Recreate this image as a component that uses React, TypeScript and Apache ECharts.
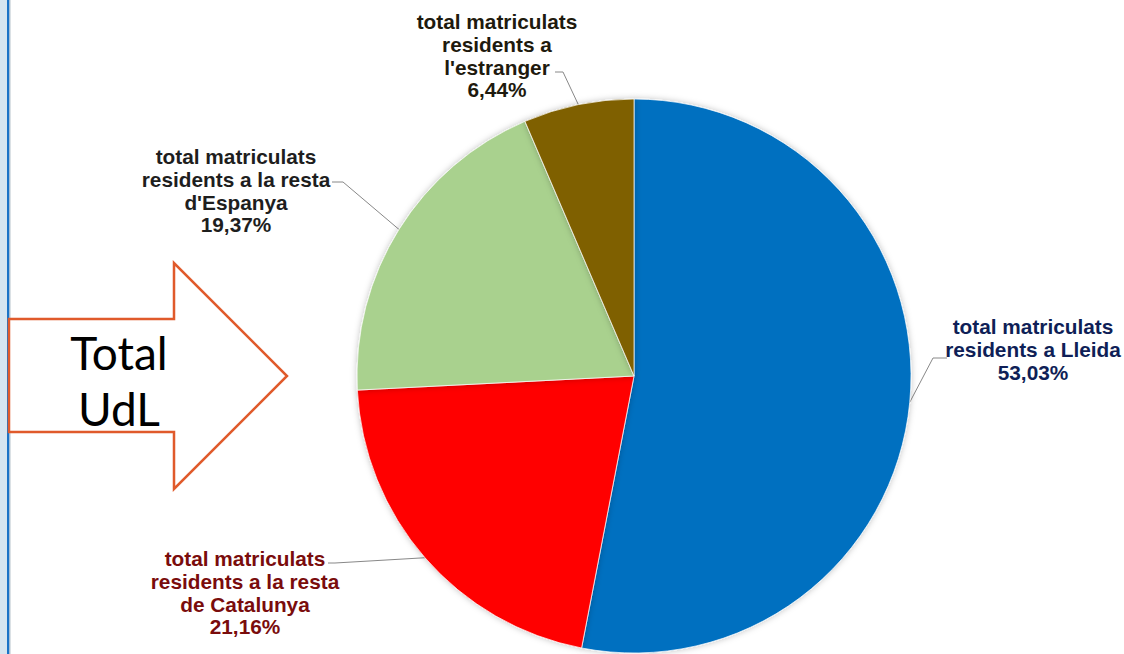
import React, { useEffect, useRef } from "react";
import * as echarts from "echarts";

const categories = [
  "total matriculats\nresidents a Lleida",
  "total matriculats\nresidents a la resta\nde Catalunya",
  "total matriculats\nresidents a la resta\nd'Espanya",
  "total matriculats\nresidents a\nl'estranger",
];
const shares = [53.03, 21.16, 19.37, 6.44];
const sliceColors = ["#0070C0", "#FF0000", "#A9D18E", "#7F6000"];
const labelColors = ["#0F1F57", "#7A0C0C", "#1E1E1E", "#1E1A0E"];
const arrowText = "Total\nUdL";

// label block placement: [centerX, topY, bendX, bendY, endX, endY]
const labelPlacement = [
  [1033, 315, 933, 358, 947, 358],
  [245, 547, 335, 563, 328, 563],
  [236, 145, 343, 182, 332, 182],
  [497, 10, 563, 72, 555, 72],
];

const fmt = (v: number) => v.toFixed(2).replace(".", ",") + "%";

export default function App() {
  const ref = useRef<HTMLDivElement>(null);
  useEffect(() => {
    if (!ref.current) return;
    const chart = echarts.init(ref.current, undefined, { renderer: "svg" });
    chart.setOption({
      animation: false,
      backgroundColor: "#ffffff",
      graphic: [
        { type: "rect", shape: { x: 0, y: 0, width: 7, height: 654 }, style: { fill: "#D5E5F0" } },
        { type: "rect", shape: { x: 7, y: 0, width: 2.5, height: 654 }, style: { fill: "#1A73C6" } },
        { type: "rect", shape: { x: 9.5, y: 0, width: 1, height: 654 }, style: { fill: "#B8C4CC" } },
        {
          type: "polygon",
          shape: {
            points: [
              [9, 319],
              [174, 319],
              [174, 263],
              [287, 376],
              [174, 489],
              [174, 432],
              [9, 432],
            ],
          },
          style: { fill: "#ffffff", stroke: "#E05A2B", lineWidth: 2.5 },
        },
        {
          type: "text",
          x: 119,
          y: 380,
          style: {
            text: arrowText,
            fill: "#000000",
            font: "46px Lato, 'Open Sans', sans-serif",
            lineHeight: 56,
            align: "center",
            verticalAlign: "middle",
          },
        },
      ],
      series: [
        {
          type: "pie",
          center: [634, 376],
          radius: 277,
          startAngle: 90,
          clockwise: true,
          avoidLabelOverlap: false,
          itemStyle: {
            borderColor: "rgba(255,255,255,0.7)",
            borderWidth: 1,
            shadowBlur: 6,
            shadowColor: "rgba(0,0,0,0.25)",
          },
          label: {
            show: true,
            position: "outer",
            fontFamily: "'Liberation Sans', Arial, sans-serif",
            fontWeight: "bold",
            fontSize: 20.8,
            lineHeight: 22.8,
            align: "center",
            formatter: (p: any) => p.name + "\n" + fmt(p.value),
          },
          labelLine: { show: true, lineStyle: { color: "#888888", width: 1 } },
          labelLayout: (params: any) => {
            const pl = labelPlacement[params.dataIndex];
            const start = params.labelLinePoints ? params.labelLinePoints[0] : [pl[2], pl[3]];
            return {
              x: pl[0],
              y: pl[1],
              align: "center",
              verticalAlign: "top",
              labelLinePoints: [start, [pl[2], pl[3]], [pl[4], pl[5]]],
            };
          },
          data: categories.map((name, i) => ({
            name,
            value: shares[i],
            itemStyle: { color: sliceColors[i] },
            label: { color: labelColors[i] },
          })),
        },
      ],
    });
    return () => chart.dispose();
  }, []);
  return (
    <div
      ref={ref}
      style={{ position: "fixed", left: 0, top: 0, width: 1124, height: 654 }}
    />
  );
}
